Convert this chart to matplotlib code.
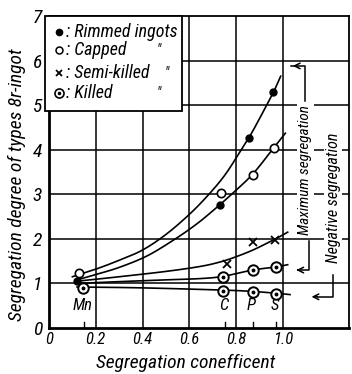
import matplotlib
matplotlib.use("Agg")
import matplotlib.pyplot as plt
from matplotlib.patches import Rectangle
from matplotlib import font_manager
import numpy as np

names = {f.name for f in font_manager.fontManager.ttflist}
fam = [n for n in ['Liberation Sans Narrow', 'Roboto Condensed', 'DejaVu Sans Condensed'] if n in names]
plt.rcParams['font.family'] = fam + ['DejaVu Sans']

# ---- data ----
rim_pts_x = [0.12, 0.73, 0.855, 0.957]
rim_pts_y = [1.05, 2.76, 4.27, 5.29]
rim_curve_x = [0.10, 0.20, 0.30, 0.40, 0.50, 0.60, 0.68, 0.75, 0.81, 0.86, 0.91, 0.96, 0.99]
rim_curve_y = [1.15, 1.32, 1.52, 1.75, 2.10, 2.55, 2.98, 3.42, 3.90, 4.32, 4.80, 5.30, 5.65]

cap_pts_x = [0.13, 0.735, 0.87, 0.96]
cap_pts_y = [1.23, 3.02, 3.44, 4.04]
cap_curve_x = [0.12, 0.20, 0.30, 0.42, 0.54, 0.63, 0.70, 0.78, 0.87, 0.96, 1.01]
cap_curve_y = [1.08, 1.20, 1.36, 1.62, 2.00, 2.33, 2.63, 3.00, 3.45, 4.04, 4.37]

semi_pts_x = [0.76, 0.87, 0.965]
semi_pts_y = [1.44, 1.93, 1.98]
semi_curve_x = [0.12, 0.30, 0.50, 0.645, 0.73, 0.80, 0.88, 0.975, 1.02]
semi_curve_y = [1.05, 1.15, 1.27, 1.38, 1.48, 1.60, 1.77, 2.02, 2.15]

kil_hi_pts_x = [0.745, 0.87, 0.97]
kil_hi_pts_y = [1.14, 1.30, 1.37]
kil_hi_curve_x = [0.12, 0.30, 0.50, 0.65, 0.745, 0.87, 0.97, 1.02]
kil_hi_curve_y = [1.00, 1.04, 1.08, 1.11, 1.16, 1.30, 1.37, 1.42]

kil_lo_pts_x = [0.145, 0.745, 0.87, 0.97]
kil_lo_pts_y = [0.90, 0.84, 0.81, 0.77]
kil_lo_curve_x = [0.12, 0.40, 0.745, 0.87, 0.97, 1.03]
kil_lo_curve_y = [0.92, 0.90, 0.85, 0.82, 0.78, 0.75]

elements = ['Mn', 'C', 'P', 'S']
element_coef = [0.15, 0.75, 0.87, 0.97]

legend_labels = [': Rimmed ingots', ': Capped', ': Semi-killed', ': Killed']

x_ticks = [0, 0.2, 0.4, 0.6, 0.8, 1.0]
x_ticklabels = ['0', '0.2', '0.4', '0.6', '0.8', '1.0']
y_ticks = [0, 1, 2, 3, 4, 5, 6, 7]
y_ticklabels = ['0', '1', '2', '3', '4', '5', '6', '7']


def smooth(xs, ys, n=12):
    """Catmull-Rom rendering through the read points (drawing only)."""
    p = np.column_stack([xs, ys]).astype(float)
    p = np.vstack([2 * p[0] - p[1], p, 2 * p[-1] - p[-2]])
    out = []
    t = np.linspace(0, 1, n, endpoint=False)[:, None]
    for i in range(1, len(p) - 2):
        p0, p1, p2, p3 = p[i - 1], p[i], p[i + 1], p[i + 2]
        seg = 0.5 * ((2 * p1) + (-p0 + p2) * t + (2 * p0 - 5 * p1 + 4 * p2 - p3) * t ** 2
                     + (-p0 + 3 * p1 - 3 * p2 + p3) * t ** 3)
        out.append(seg)
    out.append(p[-2][None, :])
    out = np.vstack(out)
    return out[:, 0], out[:, 1]


# ---- figure ----
fig = plt.figure(figsize=(3.52, 3.74), dpi=100)
ax = fig.add_axes([49 / 352, 1 - 328 / 374, 300 / 352, 312 / 374])
ax.set_xlim(0, 1.282)
ax.set_ylim(0, 7)

for v in x_ticks[1:]:
    ax.axvline(v, color='black', lw=1.1, zorder=1)
for v in y_ticks[1:-1]:
    ax.axhline(v, color='black', lw=1.1, zorder=1)

for s in ax.spines.values():
    s.set_linewidth(1.3)
ax.spines['left'].set_linewidth(2)
ax.spines['bottom'].set_linewidth(2)

ax.set_xticks(x_ticks)
ax.set_xticklabels(x_ticklabels, fontsize=12, style='italic')
ax.set_yticks(y_ticks)
ax.set_yticklabels(y_ticklabels, fontsize=14, style='italic')
ax.tick_params(length=0)
ax.tick_params(axis='y', pad=5)
ax.tick_params(axis='x', pad=3)

lc = 'black'
lw = 1.2
for cx, cy in [(rim_curve_x, rim_curve_y), (cap_curve_x, cap_curve_y),
               (semi_curve_x, semi_curve_y), (kil_hi_curve_x, kil_hi_curve_y),
               (kil_lo_curve_x, kil_lo_curve_y)]:
    sx, sy = smooth(cx, cy)
    ax.plot(sx, sy, color=lc, lw=lw, zorder=3)

ax.plot(rim_pts_x, rim_pts_y, 'o', color='black', ms=5, zorder=5)
ax.plot(cap_pts_x, cap_pts_y, 'o', mfc='white', mec='black', mew=1.2, ms=6, zorder=5)
ax.plot(semi_pts_x, semi_pts_y, 'x', color='black', mew=1.3, ms=6, zorder=5)
for px_, py_ in [(kil_hi_pts_x, kil_hi_pts_y), (kil_lo_pts_x, kil_lo_pts_y)]:
    ax.plot(px_, py_, 'o', mfc='white', mec='black', mew=1.4, ms=7.5, zorder=5)
    ax.plot(px_, py_, 'o', color='black', ms=1.8, zorder=6)

# element labels and small ticks
for name, c in zip(elements, element_coef):
    ax.text(c - 0.005, 0.5, name, ha='center', va='center', fontsize=12,
            style='italic', zorder=4)
    ax.plot([c, c], [0, 0.13], color='black', lw=1, zorder=4)

# right-hand annotations
tb = dict(facecolor='white', edgecolor='none', pad=1)
ax.text(1.095, 3.55, 'Maximum segregation', rotation=90, ha='center', va='center',
        fontsize=11, style='italic', bbox=tb, zorder=6)
ax.plot([1.095, 1.095, 1.035], [5.1, 5.88, 5.88], color='black', lw=1.1, zorder=6)
ax.annotate('', xy=(1.03, 5.88), xytext=(1.07, 5.88),
            arrowprops=dict(arrowstyle='->', color='black', lw=1.1), zorder=6)
ax.plot([1.11, 1.11, 1.07], [1.95, 1.3, 1.3], color='black', lw=1.1, zorder=6)
ax.annotate('', xy=(1.045, 1.3), xytext=(1.08, 1.3),
            arrowprops=dict(arrowstyle='->', color='black', lw=1.1), zorder=6)

ax.text(1.215, 2.92, 'Negative segregation', rotation=90, ha='center', va='center',
        fontsize=11.5, style='italic', bbox=tb, zorder=6)
ax.plot([1.215, 1.215, 1.15], [1.2, 0.7, 0.7], color='black', lw=1.1, zorder=6)
ax.annotate('', xy=(1.11, 0.7), xytext=(1.16, 0.7),
            arrowprops=dict(arrowstyle='->', color='black', lw=1.1), zorder=6)

# legend (drawn manually)
ax.add_patch(Rectangle((-0.013, 0.695), 0.456, 0.305, transform=ax.transAxes,
                       facecolor='white', edgecolor='black', lw=1.3, zorder=7,
                       clip_on=False))
rows = [0.949, 0.891, 0.817, 0.753]
mx = 0.035
ax.plot([mx], [rows[0]], 'o', color='black', ms=4.5, transform=ax.transAxes, zorder=8)
ax.plot([mx], [rows[1]], 'o', mfc='white', mec='black', mew=1.1, ms=5,
        transform=ax.transAxes, zorder=8)
ax.plot([mx], [rows[2]], 'x', color='black', mew=1.3, ms=5, transform=ax.transAxes, zorder=8)
ax.plot([mx], [rows[3]], 'o', mfc='white', mec='black', mew=1.2, ms=6.5,
        transform=ax.transAxes, zorder=8)
ax.plot([mx], [rows[3]], 'o', color='black', ms=1.6, transform=ax.transAxes, zorder=9)
for lab, r in zip(legend_labels, rows):
    ax.text(0.055, r, lab, transform=ax.transAxes, ha='left', va='center',
            fontsize=13, style='italic', zorder=8)
for r, dx in zip(rows[1:], [0.36, 0.385, 0.36]):
    ax.text(dx, r, '"', transform=ax.transAxes, ha='left', va='center',
            fontsize=10, style='italic', zorder=8)

ax.set_xlabel('Segregation conefficent', fontsize=14, style='italic')
ax.xaxis.set_label_coords(0.455, -0.082)
ax.set_ylabel('Segregation degree of types 8r-ingot', fontsize=14, style='italic')
ax.yaxis.set_label_coords(-0.075, 0.46)

fig.savefig('out.png', dpi=100)
